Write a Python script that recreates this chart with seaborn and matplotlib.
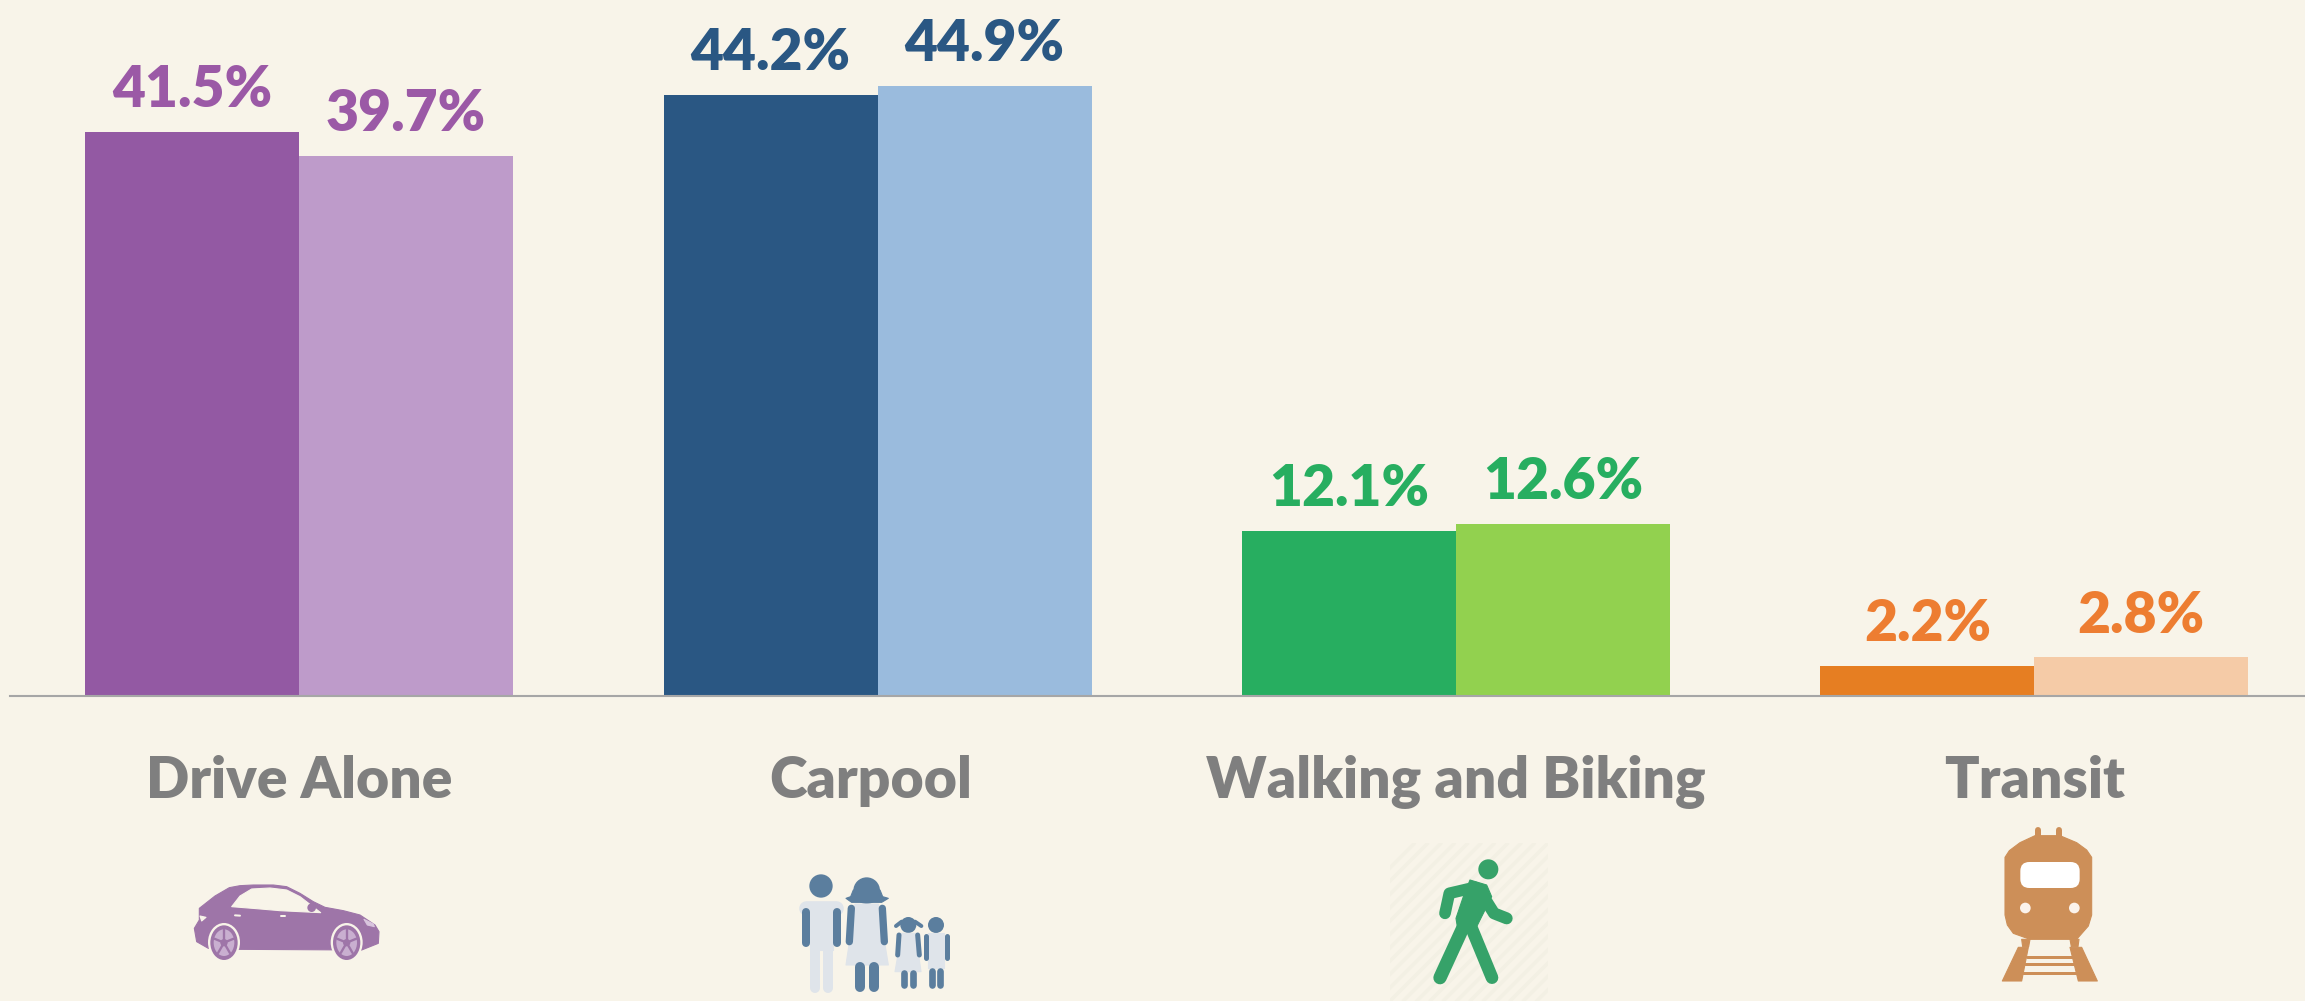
import numpy as np
import pandas as pd
import matplotlib
matplotlib.use('Agg')
import matplotlib.pyplot as plt
from matplotlib.patches import Circle, Polygon, FancyBboxPatch, Rectangle, Ellipse
from matplotlib.transforms import ScaledTranslation
import seaborn as sns

categories = ['Drive Alone', 'Carpool', 'Walking and Biking', 'Transit']
first_values = [41.5, 44.2, 12.1, 2.2]
second_values = [39.7, 44.9, 12.6, 2.8]
first_colors = ['#9359A3', '#2A5783', '#27AE60', '#E67E22']
second_colors = ['#BE9BCA', '#9ABBDD', '#92D14F', '#F5CBA7']
label_colors = ['#9B59A6', '#2A5783', '#27AE60', '#ED7D31']

BG = '#F8F4E9'
W, H = 2305, 1001
BASE_Y = 695.5

sns.set_theme(style='white')
plt.rcParams['font.family'] = ['Lato', 'DejaVu Sans']

df = pd.DataFrame({
    'category': categories * 2,
    'share': first_values + second_values,
    'series': ['first'] * 4 + ['second'] * 4,
})

fig = plt.figure(figsize=(W / 100, H / 100), dpi=100, facecolor=BG)
ax = fig.add_axes([10 / W, 1 - BASE_Y / H, (W - 10) / W, BASE_Y / H], facecolor='none')

sns.barplot(data=df, x='category', y='share', hue='series', width=0.74,
            gap=0, legend=False, saturation=1, ax=ax)
ax.set_xlim(-0.5, 3.468)
ax.set_ylim(0, BASE_Y / 13.58)

# each bar has its own colour, the hue only gives the dodge
for cont, cols, vals in zip(ax.containers, [first_colors, second_colors], [first_values, second_values]):
    for bar, c in zip(cont, cols):
        bar.set_facecolor(c)
        bar.set_edgecolor('none')
    labs = ax.bar_label(cont, labels=[f'{v}%' for v in vals], padding=11.5,
                        fontsize=41, fontweight='heavy')
    for t, c in zip(labs, label_colors):
        t.set_color(c)

sns.despine(ax=ax, left=True)
ax.spines['bottom'].set_color('#A6A6A6')
ax.spines['bottom'].set_linewidth(1.5)
ax.set_yticks([])
ax.set_xlabel('')
ax.set_ylabel('')
ax.tick_params(axis='x', length=0, pad=42.5)
ax.set_xticks(range(4))
ax.set_xticklabels(categories, fontsize=41, fontweight='heavy', color='#7F7F7F')

# Carpool label sits a little left of its bars in the original
carpool = ax.get_xticklabels()[1]
carpool.set_transform(carpool.get_transform() + ScaledTranslation(-0.07, 0, fig.dpi_scale_trans))

# icons are drawn on a second axes in picture pixels
ico = fig.add_axes([0, 0, 1, 1], facecolor='none')
ico.set_xlim(0, W)
ico.set_ylim(H, 0)
ico.axis('off')


class Icon:
    def __init__(self, x0, y0):
        self.x0, self.y0 = x0, y0

    def p(self, x, y):
        return self.x0 + x / 3, self.y0 + y / 3

    def poly(self, pts, color, z=3):
        ico.add_patch(Polygon([self.p(*q) for q in pts], closed=True, fc=color, ec=color,
                              lw=0.8, joinstyle='round', zorder=z))

    def circle(self, x, y, r, color, z=3):
        ico.add_patch(Circle(self.p(x, y), r / 3, fc=color, ec='none', zorder=z))

    def line(self, pts, w, color, z=3):
        xs, ys = zip(*[self.p(*q) for q in pts])
        ico.plot(xs, ys, color=color, lw=w / 3 * 0.72, solid_capstyle='round',
                 solid_joinstyle='round', zorder=z)


# car
CAR = '#9E75A8'
car = Icon(130, 820)
car.poly([(208, 265), (255, 228), (298, 203), (330, 197), (370, 195), (430, 195), (470, 200),
          (510, 220), (550, 245), (585, 262), (640, 272), (690, 285), (735, 315), (747, 335),
          (745, 370), (695, 390), (330, 388), (235, 385), (200, 365), (193, 325), (208, 300)], CAR)
car.poly([(305, 260), (330, 228), (365, 207), (420, 204), (470, 210), (510, 230), (572, 278),
          (450, 272), (380, 266)], BG, 4)
car.circle(545, 263, 13, CAR, 5)
car.poly([(210, 288), (228, 292), (215, 303)], BG, 4)
car.poly([(702, 298), (730, 312), (733, 320), (712, 315)], '#D9C5DE', 4)
car.line([(315, 286), (330, 287)], 6, BG, 4)
car.line([(452, 287), (466, 287)], 6, BG, 4)
for wx in (282, 650):
    ico.add_patch(Ellipse(car.p(wx, 367), 96 / 3, 116 / 3, fc=BG, ec='none', zorder=4))
    ico.add_patch(Ellipse(car.p(wx, 368), 82 / 3, 104 / 3, fc=CAR, ec='none', zorder=5))
    ico.add_patch(Ellipse(car.p(wx, 368), 62 / 3, 80 / 3, fc='#C9AFD0', ec='none', zorder=6))
    car.circle(wx, 368, 11, CAR, 7)
    for a in np.deg2rad([90, 162, 234, 306, 18]):
        car.line([(wx, 368), (wx + 30 * np.cos(a), 368 - 38 * np.sin(a))], 7, CAR, 7)

# family
DK, LT = '#5B7E9E', '#DFE4EA'
fam = Icon(760, 840)
fam.circle(183, 138, 35, DK)
fam.line([(138, 205), (228, 205)], 44, LT)
fam.poly([(150, 190), (218, 190), (218, 330), (150, 330)], LT)
fam.line([(165, 330), (165, 445)], 30, LT)
fam.line([(203, 330), (203, 445)], 30, LT)
fam.line([(137, 215), (137, 308)], 24, DK, 4)
fam.line([(231, 215), (231, 308)], 24, DK, 4)
# hair: dome plus brim
fam.circle(320, 152, 40, DK)
fam.poly([(258, 175), (272, 170), (280, 150), (360, 150), (368, 170), (385, 175), (365, 187), (275, 187)], DK)
fam.poly([(285, 192), (355, 192), (385, 375), (258, 375)], LT)
fam.line([(274, 205), (268, 305)], 22, DK, 4)
fam.line([(367, 205), (373, 305)], 22, DK, 4)
fam.line([(300, 380), (300, 440)], 30, DK)
fam.line([(342, 380), (342, 440)], 30, DK)
fam.circle(445, 255, 24, DK)
fam.line([(425, 245), (408, 258)], 12, DK)
fam.line([(465, 245), (484, 258)], 12, DK)
fam.poly([(425, 280), (467, 280), (483, 395), (405, 395)], LT)
fam.line([(417, 285), (413, 345)], 15, DK, 4)
fam.line([(473, 285), (478, 345)], 15, DK, 4)
fam.line([(433, 400), (433, 435)], 20, DK)
fam.line([(459, 400), (459, 435)], 20, DK)
fam.circle(528, 255, 24, DK)
fam.poly([(505, 280), (552, 280), (552, 385), (505, 385)], LT)
fam.line([(498, 288), (498, 355)], 15, DK, 4)
fam.line([(560, 288), (560, 355)], 15, DK, 4)
fam.line([(515, 392), (515, 435)], 20, DK)
fam.line([(541, 392), (541, 435)], 20, DK)

# walker, sits on a faint striped square
GR = '#36A269'
wk = Icon(1370, 830)
clip = Rectangle(wk.p(60, 40), 475 / 3, 473 / 3, transform=ico.transData)
for off in range(-400, 520, 40):
    xs, ys = zip(wk.p(60 + off, 513), wk.p(60 + off + 473, 40))
    ln, = ico.plot(xs, ys, color='#F3F0E4', lw=2.5, zorder=2)
    ln.set_clip_path(clip)
wk.circle(355, 118, 30, GR)
wk.poly([(300, 150), (350, 165), (365, 200), (345, 240), (320, 290), (262, 290), (258, 265), (280, 200)], GR)
wk.line([(315, 172), (238, 190), (225, 250)], 35, GR)
wk.line([(350, 215), (372, 250), (410, 265)], 36, GR)
wk.line([(278, 295), (210, 443)], 40, GR)
wk.line([(305, 295), (366, 443)], 38, GR)

# train
TR = '#CD8F58'
tr = Icon(1970, 820)
tr.poly([(105, 112), (118, 92), (150, 68), (195, 47), (270, 47), (320, 68), (350, 90), (365, 112),
         (365, 285), (355, 318), (320, 358), (180, 358), (130, 340), (112, 315), (105, 285)], TR)
tr.line([(203, 30), (203, 50)], 18, TR)
tr.line([(267, 30), (267, 50)], 18, TR)
x1, y1 = tr.p(178, 153)
ico.add_patch(FancyBboxPatch((x1, y1), 124 / 3, 24 / 3, boxstyle='round,pad=9,rounding_size=9',
                             fc='white', ec='none', zorder=4))
tr.circle(166, 264, 16, '#FBF3EC', 4)
tr.circle(313, 264, 16, '#FBF3EC', 4)
tr.poly([(155, 358), (180, 358), (176, 380), (158, 380)], TR)
tr.poly([(300, 358), (327, 358), (324, 380), (304, 380)], TR)
tr.poly([(145, 382), (175, 382), (155, 483), (97, 483)], TR)
tr.poly([(300, 382), (335, 382), (382, 483), (325, 483)], TR)
for ty, a, b in [(410, 170, 310), (433, 165, 315), (460, 160, 320)]:
    tr.line([(a, ty), (b, ty)], 9, TR)

fig.savefig('out.png', dpi=100, facecolor=BG)
